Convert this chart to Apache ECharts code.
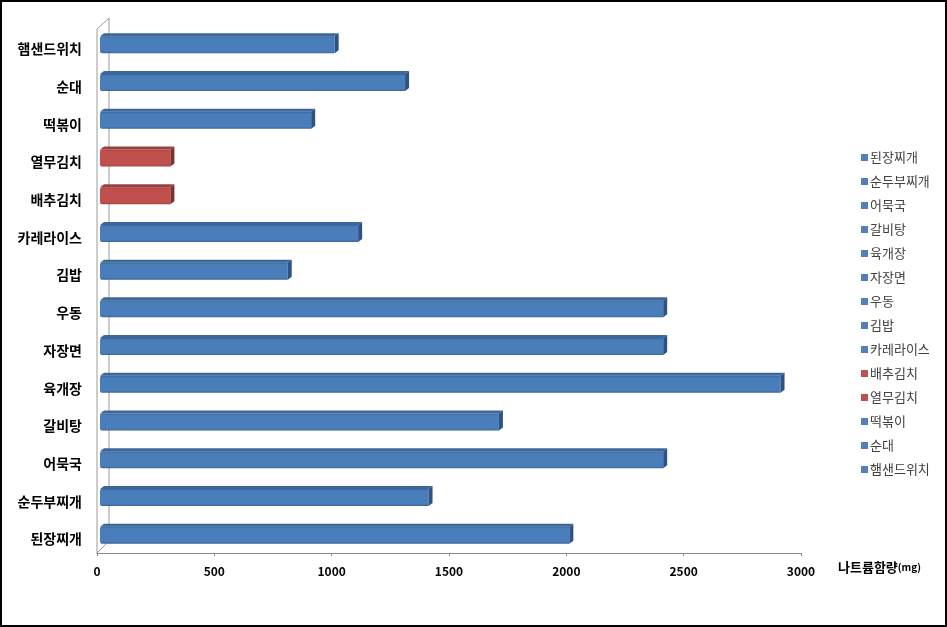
<!DOCTYPE html>
<html>
<head>
<meta charset="utf-8">
<script src="https://cdn.jsdelivr.net/npm/echarts@6/dist/echarts.min.js"></script>
<style>
html,body{margin:0;padding:0;background:#fff;}
#c{width:947px;height:627px;}
</style>
</head>
<body>
<div id="c"></div>
<script>
// categories bottom -> top
var categories = ['된장찌개','순두부찌개','어묵국','갈비탕','육개장','자장면','우동','김밥','카레라이스','배추김치','열무김치','떡볶이','순대','햄샌드위치'];
var sodium = [2000,1400,2400,1700,2900,2400,2400,800,1100,300,300,900,1300,1000];
var colorGroup = ['b','b','b','b','b','b','b','b','b','r','r','b','b','b'];
var xTicks = [0,500,1000,1500,2000,2500,3000];

var palette = {
  b: {front:'#4a7ebb', top:'#3c679a', end:'#2e5282', edge:'#3a6595'},
  r: {front:'#c0504d', top:'#9d3f3d', end:'#7e3230', edge:'#a04442'}
};

var chart = echarts.init(document.getElementById('c'));

function makeRender(pal){
  return function(params, api){
    var idx = api.value(1);
    var p0 = api.coord([0, idx]);
    var p1 = api.coord([api.value(0), idx]);
    var h = 17;
    var off = 3, dx = 4, dy = -3;
    var xs = p0[0] + off, xe = p1[0] + off;
    var yt = p0[1] - h/2 + 1, yb = yt + h;
    return {
      type:'group',
      children:[
        {type:'polygon', shape:{points:[[xs,yt],[xe,yt],[xe+dx,yt+dy],[xs+dx,yt+dy]]},
         style:{fill:pal.top}},
        {type:'rect', shape:{x:xs, y:yt, width:xe-xs, height:h, r:[2,0,0,2]},
         style:{fill:new echarts.graphic.LinearGradient(0,0,0,1,[
            {offset:0,color:pal.edge},{offset:0.12,color:pal.front},{offset:0.88,color:pal.front},{offset:1,color:pal.edge}])}},
        {type:'polygon', shape:{points:[[xe,yt],[xe+dx,yt+dy],[xe+dx,yb+dy],[xe,yb]]},
         style:{fill:pal.end}}
      ]
    };
  };
}

var series = [];
var legendData = [];
for (var i = 0; i < categories.length; i++) {
  var pal = palette[colorGroup[i]];
  series.push({
    name: categories[i],
    type: 'custom',
    renderItem: makeRender(pal),
    itemStyle: {color: pal.front},
    encode: {x:0, y:1},
    data: [[sodium[i], i]],
    z: 3
  });
  legendData.push({name: categories[i], itemStyle:{color: colorGroup[i]==='r' ? '#c0504d' : '#4f81bd'}});
}

var option = {
  backgroundColor:'#fff',
  animation:false,
  grid:{left:97, right:146, top:25, bottom:74, containLabel:false},
  legend:{
    orient:'vertical', left:856, top:145,
    data: legendData,
    icon:'rect', itemWidth:7, itemHeight:7, itemGap:9,
    textStyle:{fontFamily:'Noto Sans CJK KR', fontSize:13, color:'#404040', lineHeight:15, padding:[0,0,0,-3]},
    selectedMode:false
  },
  xAxis:{
    type:'value', min:0, max:3000, interval:500,
    axisLine:{show:true, lineStyle:{color:'#8c8c8c', width:1}},
    axisTick:{show:true, length:3, lineStyle:{color:'#8c8c8c'}},
    splitLine:{show:false},
    axisLabel:{margin:12, fontFamily:'Noto Sans CJK KR', fontWeight:'bold', fontSize:12, color:'#000',
      formatter:function(v){ return String(v); }},
    name:'나트륨함량{s|(mg)}', nameLocation:'end', nameGap:37,
    nameTextStyle:{fontFamily:'Noto Sans CJK KR', fontWeight:'bold', fontSize:13, color:'#000', align:'left', verticalAlign:'top', padding:[8,0,0,0],
      rich:{s:{fontFamily:'Noto Sans CJK KR', fontWeight:'bold', fontSize:10, color:'#000'}}}
  },
  yAxis:{
    type:'category', data:categories,
    axisLine:{show:false}, axisTick:{show:false}, splitLine:{show:false},
    axisLabel:{margin:15,
      formatter:function(v){ return '{a|' + v + '}'; },
      rich:{a:{fontFamily:'Noto Sans CJK KR', fontWeight:'bold', fontSize:14, color:'#000', padding:[10,0,0,0]}}}
  },
  series: series
};
chart.setOption(option);

// decorative wall / border, positioned from the axes
var a0 = chart.convertToPixel({xAxisIndex:0}, 0);
var yTop = 25, yBot = 553;
chart.setOption({
  graphic:[
    {type:'polyline', shape:{points:[[a0,yBot],[a0,yTop+4],[a0+12,yTop-7],[a0+12,yBot-12],[a0,yBot]]},
     style:{stroke:'#9a9a9a', fill:null, lineWidth:1}, z:1},
    {type:'rect', shape:{x:1, y:1, width:945, height:625}, style:{stroke:'#000', fill:null, lineWidth:2}, z:10}
  ]
});
</script>
</body>
</html>
